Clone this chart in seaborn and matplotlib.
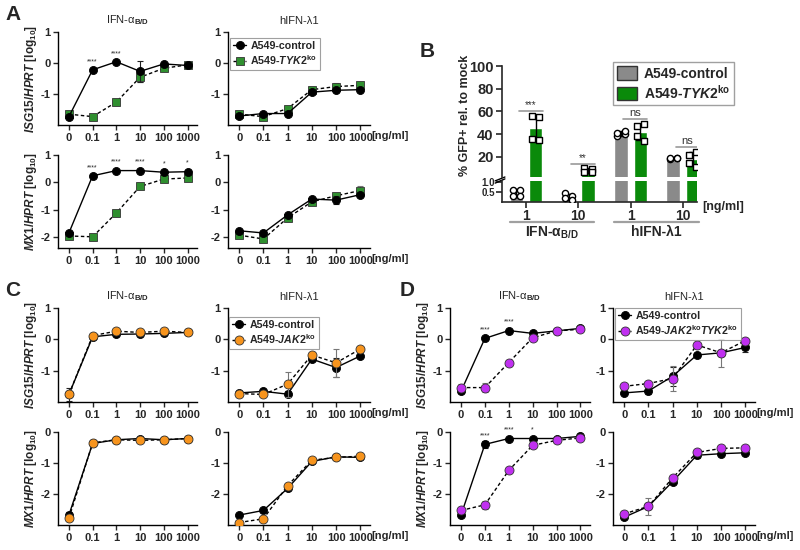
import numpy as np
import pandas as pd
import matplotlib
matplotlib.use('Agg')
import matplotlib.pyplot as plt
from matplotlib.patches import Patch
import seaborn as sns

sns.set_style('ticks')
plt.rcParams['font.family'] = ['Liberation Sans', 'DejaVu Sans']
plt.rcParams['font.weight'] = 'bold'
plt.rcParams['axes.labelweight'] = 'bold'
plt.rcParams['axes.unicode_minus'] = False
plt.rcParams['mathtext.fontset'] = 'custom'
plt.rcParams['mathtext.rm'] = 'Liberation Sans:bold'
plt.rcParams['mathtext.bf'] = 'Liberation Sans:bold'
plt.rcParams['mathtext.it'] = 'Liberation Sans:italic:bold'

# ---- data ----
doses = ['0', '0.1', '1', '10', '100', '1000']

# panel A (control vs TYK2ko)
a_isg_ifna_ctrl = [-1.73, -0.22, 0.04, -0.27, -0.03, -0.08]
a_isg_ifna_ko = [-1.65, -1.73, -1.26, -0.46, -0.17, -0.06]
a_isg_ifna_ctrl_sd = [0.03, 0.06, 0.03, 0.33, 0.04, 0.03]
a_isg_ifna_ko_sd = [0.03, 0.03, 0.05, 0.15, 0.05, 0.03]
a_isg_lam_ctrl = [-1.71, -1.63, -1.63, -0.94, -0.88, -0.86]
a_isg_lam_ko = [-1.65, -1.73, -1.47, -0.86, -0.76, -0.72]
a_isg_lam_ctrl_sd = [0.03, 0.03, 0.03, 0.04, 0.05, 0.03]
a_isg_lam_ko_sd = [0.03, 0.05, 0.05, 0.04, 0.12, 0.05]
a_mx_ifna_ctrl = [-1.85, 0.24, 0.43, 0.43, 0.37, 0.39]
a_mx_ifna_ko = [-1.96, -1.99, -1.12, -0.15, 0.12, 0.16]
a_mx_ifna_ctrl_sd = [0.06, 0.03, 0.03, 0.03, 0.08, 0.06]
a_mx_ifna_ko_sd = [0.04, 0.03, 0.05, 0.04, 0.05, 0.04]
a_mx_lam_ctrl = [-1.77, -1.85, -1.19, -0.61, -0.65, -0.45]
a_mx_lam_ko = [-1.93, -2.07, -1.30, -0.71, -0.49, -0.30]
a_mx_lam_ctrl_sd = [0.04, 0.06, 0.05, 0.04, 0.15, 0.05]
a_mx_lam_ko_sd = [0.04, 0.06, 0.05, 0.04, 0.06, 0.17]

# panel C (control vs JAK2ko)
c_isg_ifna_ctrl = [-1.76, 0.08, 0.16, 0.17, 0.19, 0.22]
c_isg_ifna_ko = [-1.76, 0.12, 0.26, 0.22, 0.26, 0.22]
c_isg_ifna_ctrl_sd = [0.2, 0.03, 0.03, 0.03, 0.03, 0.03]
c_isg_ifna_ko_sd = [0.05, 0.03, 0.03, 0.03, 0.03, 0.03]
c_isg_lam_ctrl = [-1.71, -1.66, -1.75, -0.63, -0.90, -0.53]
c_isg_lam_ko = [-1.73, -1.76, -1.43, -0.50, -0.75, -0.31]
c_isg_lam_ctrl_sd = [0.03, 0.04, 0.1, 0.04, 0.3, 0.04]
c_isg_lam_ko_sd = [0.03, 0.04, 0.4, 0.04, 0.45, 0.04]
c_mx_ifna_ctrl = [-2.68, -0.37, -0.25, -0.21, -0.25, -0.21]
c_mx_ifna_ko = [-2.78, -0.35, -0.25, -0.27, -0.25, -0.21]
c_mx_ifna_ctrl_sd = [0.1, 0.03, 0.03, 0.03, 0.03, 0.03]
c_mx_ifna_ko_sd = [0.05, 0.03, 0.03, 0.03, 0.03, 0.03]
c_mx_lam_ctrl = [-2.68, -2.53, -1.82, -0.95, -0.80, -0.82]
c_mx_lam_ko = [-2.92, -2.80, -1.73, -0.91, -0.82, -0.78]
c_mx_lam_ctrl_sd = [0.03, 0.04, 0.05, 0.04, 0.04, 0.04]
c_mx_lam_ko_sd = [0.03, 0.04, 0.05, 0.04, 0.04, 0.04]

# panel D (control vs JAK2ko TYK2ko)
d_isg_ifna_ctrl = [-1.66, 0.03, 0.28, 0.19, 0.27, 0.35]
d_isg_ifna_ko = [-1.54, -1.54, -0.74, 0.05, 0.27, 0.32]
d_isg_ifna_ctrl_sd = [0.04, 0.05, 0.03, 0.03, 0.03, 0.03]
d_isg_ifna_ko_sd = [0.1, 0.15, 0.04, 0.03, 0.03, 0.03]
d_isg_lam_ctrl = [-1.71, -1.65, -1.18, -0.50, -0.43, -0.26]
d_isg_lam_ko = [-1.50, -1.41, -1.25, -0.18, -0.43, -0.04]
d_isg_lam_ctrl_sd = [0.04, 0.1, 0.3, 0.05, 0.05, 0.15]
d_isg_lam_ko_sd = [0.04, 0.04, 0.4, 0.04, 0.45, 0.04]
d_mx_ifna_ctrl = [-2.68, -0.40, -0.21, -0.21, -0.21, -0.14]
d_mx_ifna_ko = [-2.53, -2.35, -1.24, -0.43, -0.27, -0.19]
d_mx_ifna_ctrl_sd = [0.04, 0.12, 0.03, 0.03, 0.03, 0.03]
d_mx_ifna_ko_sd = [0.05, 0.12, 0.04, 0.04, 0.03, 0.03]
d_mx_lam_ctrl = [-2.75, -2.40, -1.60, -0.75, -0.70, -0.67]
d_mx_lam_ko = [-2.64, -2.40, -1.48, -0.66, -0.53, -0.51]
d_mx_lam_ctrl_sd = [0.04, 0.05, 0.06, 0.1, 0.05, 0.05]
d_mx_lam_ko_sd = [0.1, 0.27, 0.06, 0.05, 0.05, 0.05]

stars_a_isg = {1: '****', 2: '****'}
stars_a_mx = {1: '****', 2: '****', 3: '****', 4: '*', 5: '*'}
stars_d_isg = {1: '****', 2: '****'}
stars_d_mx = {1: '****', 2: '****', 3: '*'}

# panel B (GFP+ %)
b_doses = ['1', '10', '1', '10']
b_ctrl_pts = [[0.62, 0.62, 0.28, 0.28], [0.45, 0.30, 0.20, 0.10],
              [38.5, 40, 41.5, 43], [18, 19, 19.5, 19]]
b_ko_pts = [[56, 55, 36, 34.5], [10, 9.5, 6.5, 6.5],
            [47, 49, 38.5, 34], [22, 24.5, 14.5, 11.5]]
b_sig = ['***', '**', 'ns', 'ns']

ctrl_label = 'A549-control'
green_sq = '#2f8f2f'
green_bar = '#0a8a0a'
grey_bar = '#8a8a8a'
orange = '#f7941d'
magenta = '#c030f0'

title_ifna = 'IFN-α$_{\\mathrm{B/D}}$'
title_lam = 'hIFN-λ1'
ylab_isg = '$\\mathit{ISG15/HPRT}$ [log$_{10}$]'
ylab_mx = '$\\mathit{MX1/HPRT}$ [log$_{10}$]'

fig = plt.figure(figsize=(8, 5.5), dpi=100)


def px_axes(x0, y0, x1, y1):
    return fig.add_axes([x0 / 800, 1 - y1 / 550, (x1 - x0) / 800, (y1 - y0) / 550])


def dose_panel(ax, ctrl, ko, ctrl_sd, ko_sd, ko_color, ko_marker, ko_ms, ko_label,
               ylim, yticks, ko_on_top, stars=None):
    pos = np.arange(len(doses))
    z_ctrl, z_ko = (3, 5) if ko_on_top else (5, 3)
    ax.errorbar(pos, ctrl, yerr=ctrl_sd, fmt='none', ecolor='#222222', elinewidth=0.8,
                capsize=2, capthick=0.8, zorder=z_ctrl - 0.5)
    ax.errorbar(pos, ko, yerr=ko_sd, fmt='none', ecolor='#777777', elinewidth=0.8,
                capsize=2, capthick=0.8, zorder=z_ko - 0.5)
    sns.lineplot(x=pos, y=ctrl, ax=ax, color='black', lw=1, marker='o', markersize=5.8,
                 markerfacecolor='black', markeredgecolor='black', markeredgewidth=0.6,
                 zorder=z_ctrl, label=ctrl_label)
    sns.lineplot(x=pos, y=ko, ax=ax, color='black', lw=1, linestyle=(0, (2.5, 1.8)),
                 marker=ko_marker, markersize=ko_ms, markerfacecolor=ko_color,
                 markeredgecolor='#333333', markeredgewidth=0.6, zorder=z_ko, label=ko_label)
    if ax.get_legend() is not None:
        ax.get_legend().remove()
    if stars:
        for i, s in stars.items():
            ax.annotate(s, (i, max(ctrl[i], ko[i])), xytext=(0, 3.5), textcoords='offset points',
                        ha='center', va='bottom', fontsize=5, fontweight='normal')
    ax.set_xlim(-0.46, 5.4)
    ax.set_ylim(*ylim)
    ax.set_yticks(yticks)
    ax.set_yticklabels([str(t) for t in yticks], fontsize=8, fontweight='bold')
    ax.set_xticks(pos)
    ax.set_xticklabels(doses, fontsize=8, fontweight='bold')
    ax.tick_params(length=3.5, width=1, pad=2)
    for s in ['left', 'bottom']:
        ax.spines[s].set_linewidth(1)
        ax.spines[s].set_color('black')
    sns.despine(ax=ax)


def add_legend(ax, corner):
    ax.legend(loc='upper left', bbox_to_anchor=(corner[0] / 800, 1 - corner[1] / 550),
              bbox_transform=fig.transFigure, fontsize=7.7, frameon=True, fancybox=False,
              edgecolor='#888888', borderpad=0.3, labelspacing=0.15, handlelength=1.2,
              handletextpad=0.4, borderaxespad=0)
    ax.get_legend().get_frame().set_linewidth(0.8)


def ng_label(ax, fs=8):
    ax.annotate('[ng/ml]', xy=(1, 0), xycoords='axes fraction', xytext=(1, -8),
                textcoords='offset points', ha='left', va='center', fontsize=fs)


def block(cols, rows, sets, ko_color, ko_marker, ko_ms, ko_label, ylims, yticks, ko_on_top,
          stars, legend_corner):
    axes = []
    for r, (y0, y1) in enumerate(rows):
        for c, (x0, x1) in enumerate(cols):
            ax = px_axes(x0, y0, x1, y1)
            ctrl, ko, csd, ksd = sets[r][c]
            dose_panel(ax, ctrl, ko, csd, ksd, ko_color, ko_marker, ko_ms, ko_label,
                       ylims[r], yticks[r], ko_on_top, stars[r] if c == 0 else None)
            if c == 0:
                ax.set_ylabel(ylab_isg if r == 0 else ylab_mx, fontsize=8.5, labelpad=1)
            if c == 1:
                ng_label(ax)
            if r == 0:
                ax.set_title(title_ifna if c == 0 else title_lam, fontsize=8,
                             fontweight='normal', pad=6)
            axes.append(ax)
    add_legend(axes[1], legend_corner)
    return axes


ko_tyk = 'A549-$\\mathit{TYK2}^{\\mathrm{ko}}$'
ko_jak = 'A549-$\\mathit{JAK2}^{\\mathrm{ko}}$'
ko_dbl = 'A549-$\\mathit{JAK2}^{\\mathrm{ko}}\\mathit{TYK2}^{\\mathrm{ko}}$'

block([(58, 197), (228, 370)], [(32, 125), (155, 248)],
      [[(a_isg_ifna_ctrl, a_isg_ifna_ko, a_isg_ifna_ctrl_sd, a_isg_ifna_ko_sd),
        (a_isg_lam_ctrl, a_isg_lam_ko, a_isg_lam_ctrl_sd, a_isg_lam_ko_sd)],
       [(a_mx_ifna_ctrl, a_mx_ifna_ko, a_mx_ifna_ctrl_sd, a_mx_ifna_ko_sd),
        (a_mx_lam_ctrl, a_mx_lam_ko, a_mx_lam_ctrl_sd, a_mx_lam_ko_sd)]],
      green_sq, 's', 5.2, ko_tyk, [(-2, 1), (-2.4, 1)], [[-1, 0, 1], [-2, -1, 0, 1]],
      False, [stars_a_isg, stars_a_mx], (230, 38))

block([(58, 197), (228, 370)], [(308, 402), (432, 525)],
      [[(c_isg_ifna_ctrl, c_isg_ifna_ko, c_isg_ifna_ctrl_sd, c_isg_ifna_ko_sd),
        (c_isg_lam_ctrl, c_isg_lam_ko, c_isg_lam_ctrl_sd, c_isg_lam_ko_sd)],
       [(c_mx_ifna_ctrl, c_mx_ifna_ko, c_mx_ifna_ctrl_sd, c_mx_ifna_ko_sd),
        (c_mx_lam_ctrl, c_mx_lam_ko, c_mx_lam_ctrl_sd, c_mx_lam_ko_sd)]],
      orange, 'o', 6.5, ko_jak, [(-2, 1), (-3, 0)], [[-1, 0, 1], [-2, -1, 0]],
      True, [None, None], (229, 317))

block([(450, 590), (613, 755)], [(308, 402), (432, 525)],
      [[(d_isg_ifna_ctrl, d_isg_ifna_ko, d_isg_ifna_ctrl_sd, d_isg_ifna_ko_sd),
        (d_isg_lam_ctrl, d_isg_lam_ko, d_isg_lam_ctrl_sd, d_isg_lam_ko_sd)],
       [(d_mx_ifna_ctrl, d_mx_ifna_ko, d_mx_ifna_ctrl_sd, d_mx_ifna_ko_sd),
        (d_mx_lam_ctrl, d_mx_lam_ko, d_mx_lam_ctrl_sd, d_mx_lam_ko_sd)]],
      magenta, 'o', 6.5, ko_dbl, [(-2, 1), (-3, 0)], [[-1, 0, 1], [-2, -1, 0]],
      True, [stars_d_isg, stars_d_mx], (615, 308))

# ---- panel B: broken axis bar chart ----
cells = ['A549-control', 'A549-TYK2ko']
rows = []
for gi in range(len(b_doses)):
    for v in b_ctrl_pts[gi]:
        rows.append((gi, cells[0], v))
    for v in b_ko_pts[gi]:
        rows.append((gi, cells[1], v))
b_df = pd.DataFrame(rows, columns=['group', 'cell', 'value'])

ax_top = px_axes(502, 66, 697, 177)
ax_bot = px_axes(502, 181, 697, 202)
top_lim = (2.4, 100)
bot_lim = (0, 1.05)
offs = 0.185
jit = np.array([-0.07, 0.07, -0.07, 0.07])
for ax, (lo, hi) in ((ax_top, top_lim), (ax_bot, bot_lim)):
    sns.barplot(data=b_df, x='group', y='value', hue='cell', hue_order=cells,
                palette=[grey_bar, green_bar], width=0.74, gap=0.3, errorbar='sd',
                capsize=0.3, err_kws={'color': 'black', 'linewidth': 1}, saturation=1,
                legend=False, ax=ax, zorder=2)
    for gi in range(len(b_doses)):
        for pts, mk, sgn in ((b_ctrl_pts[gi], 'o', -1), (b_ko_pts[gi], 's', 1)):
            v = np.array(pts, dtype=float)
            keep = (v >= lo) & (v <= hi)
            if keep.any():
                ax.scatter(gi + sgn * offs + jit[keep], v[keep], marker=mk, s=20,
                           facecolor='white', edgecolor='black', linewidth=1, zorder=4)
    ax.set_xlim(-0.46, 3.27)
    ax.set_ylim(lo, hi)
    ax.set_xlabel('')
    ax.set_ylabel('')

ax_top.set_yticks([20, 40, 60, 80, 100])
ax_top.set_yticklabels(['20', '40', '60', '80', '100'], fontsize=10.5, fontweight='bold')
ax_top.set_xticks([])
for s in ['top', 'right', 'bottom']:
    ax_top.spines[s].set_visible(False)
ax_top.spines['left'].set_linewidth(1.2)
ax_top.tick_params(axis='y', length=4, width=1.2, pad=2)

ax_bot.set_yticks([0.5, 1.0])
ax_bot.set_yticklabels(['0.5', '1.0'], fontsize=7, fontweight='bold')
ax_bot.set_xticks(range(len(b_doses)))
ax_bot.set_xticklabels(b_doses, fontsize=10, fontweight='bold')
for s in ['top', 'right']:
    ax_bot.spines[s].set_visible(False)
for s in ['left', 'bottom']:
    ax_bot.spines[s].set_linewidth(1.2)
ax_bot.tick_params(length=4, width=1.2, pad=1)

# break marks on the y axis
ax_top.plot([-0.035, 0.015], [-0.035, 0.0], transform=ax_top.transAxes, color='black',
            lw=1, clip_on=False)
ax_bot.plot([-0.035, 0.015], [0.9, 1.1], transform=ax_bot.transAxes, color='black',
            lw=1, clip_on=False)

# significance labels
for gi, lab in enumerate(b_sig):
    top = max(b_ctrl_pts[gi] + b_ko_pts[gi])
    y = top + 4.5 if top > 15 else top + 4
    ax_top.plot([gi - 0.14, gi + 0.32], [y, y], color='#999999', lw=1.2, zorder=3)
    ax_top.text(gi + 0.09, y + 0.5, lab, ha='center', va='bottom',
                fontsize=7 if lab != 'ns' else 8, fontweight='normal', color='#333333')

# group underlines and labels
xt = ax_bot.get_xaxis_transform()
for (g0, g1, lab) in [(0, 1, title_ifna), (2, 3, title_lam)]:
    ax_bot.plot([g0 - 0.31, g1 + 0.3], [-0.95, -0.95], transform=xt, color='#a0a0a0',
                lw=1.6, clip_on=False)
    ax_bot.text((g0 + g1) / 2, -1.45, lab, transform=xt, ha='center', va='center',
                fontsize=10)
ax_bot.annotate('[ng/ml]', xy=(1, 0), xycoords='axes fraction', xytext=(4, -3.5),
                textcoords='offset points', ha='left', va='center', fontsize=9)

fig.text(465 / 800, 1 - 115 / 550, '% GFP+ rel. to mock', rotation=90, ha='center',
         va='center', fontsize=9)

ax_top.legend(handles=[Patch(facecolor=grey_bar, edgecolor='#333333'),
                       Patch(facecolor=green_bar, edgecolor='#333333')],
              labels=['A549-control', 'A549-$\\mathit{TYK2}^{\\mathrm{ko}}$'],
              loc='upper left', bbox_to_anchor=(613 / 800, 1 - 62 / 550),
              bbox_transform=fig.transFigure, fontsize=10, frameon=True, fancybox=False,
              edgecolor='#888888', borderpad=0.3, labelspacing=0.2, handlelength=1.4,
              handleheight=1.1, handletextpad=0.5, borderaxespad=0)

# panel letters
for lab, (x, y) in {'A': (5, 15), 'B': (420, 52), 'C': (5, 291), 'D': (400, 291)}.items():
    fig.text(x / 800, 1 - y / 550, lab, fontsize=15, fontweight='bold', ha='left',
             va='center')

fig.savefig('out.png', dpi=100)
